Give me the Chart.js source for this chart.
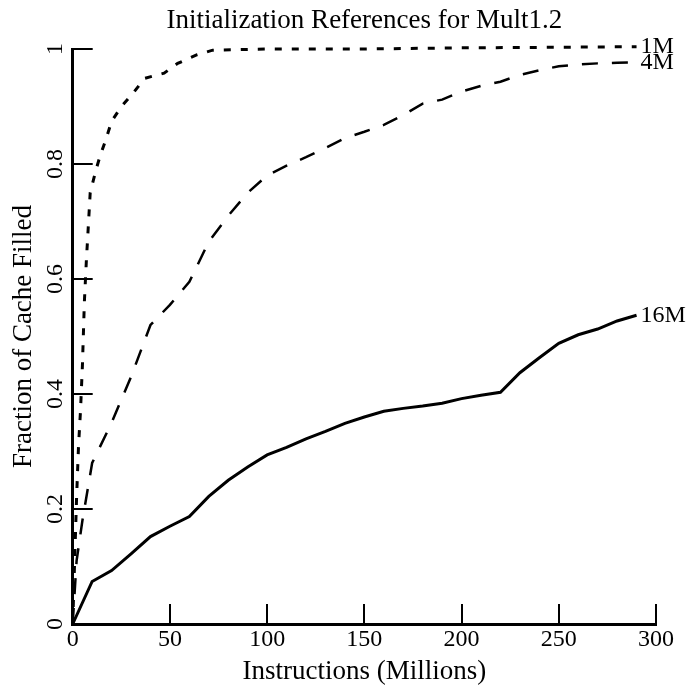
<!DOCTYPE html>
<html>
<head>
<meta charset="utf-8">
<script src="https://cdn.jsdelivr.net/npm/chart.js@4/dist/chart.umd.min.js"></script>
<style>
  html, body { margin: 0; padding: 0; background: #fff; }
  canvas { display: block; }
</style>
</head>
<body>
<canvas id="chart" width="691" height="685"></canvas>
<script>
// values
const x1M = [0, 1, 2, 3, 4, 5, 6, 7, 8, 9, 12, 14, 17, 20, 25, 31, 37, 47, 54, 64, 72, 100, 150, 200, 250, 290];
const y1M = [0, 0.11, 0.22, 0.31, 0.37, 0.45, 0.56, 0.63, 0.69, 0.75, 0.79, 0.813, 0.842, 0.874, 0.9, 0.923, 0.949, 0.958, 0.975, 0.99, 0.998, 1.0, 1.0, 1.002, 1.003, 1.004];

const x4M = [0, 2, 5, 10, 20, 30, 40, 50, 60, 70, 80, 90, 100, 110, 120, 130, 140, 150, 160, 170, 180, 190, 200, 210, 220, 230, 240, 250, 260, 270, 280, 290];
const y4M = [0, 0.11, 0.18, 0.28, 0.35, 0.43, 0.52, 0.555, 0.595, 0.665, 0.71, 0.75, 0.78, 0.797, 0.812, 0.828, 0.845, 0.856, 0.868, 0.885, 0.905, 0.912, 0.926, 0.936, 0.943, 0.955, 0.963, 0.97, 0.973, 0.975, 0.976, 0.977];

const x16M = [0, 10, 20, 30, 40, 50, 60, 70, 80, 90, 100, 110, 120, 130, 140, 150, 160, 170, 180, 190, 200, 210, 220, 230, 240, 250, 260, 270, 280, 290];
const y16M = [0, 0.074, 0.093, 0.122, 0.152, 0.17, 0.187, 0.222, 0.25, 0.273, 0.294, 0.307, 0.322, 0.335, 0.349, 0.36, 0.37, 0.375, 0.379, 0.384, 0.392, 0.398, 0.403, 0.437, 0.463, 0.488, 0.503, 0.513, 0.527, 0.537];

const xTickValues = [0, 50, 100, 150, 200, 250, 300];
const xTickLabels = ["0", "50", "100", "150", "200", "250", "300"];
const yTickValues = [0, 0.2, 0.4, 0.6, 0.8, 1];
const yTickLabels = ["0", "0.2", "0.4", "0.6", "0.8", "1"];

const toPoints = (xs, ys) => xs.map((x, i) => ({ x: x, y: ys[i] }));

const serif = '"Liberation Serif", "Times New Roman", serif';
Chart.defaults.font.family = serif;
Chart.defaults.color = "#000";

// labels at the right end of each curve
const endLabels = {
  id: "endLabels",
  afterDatasetsDraw(chart) {
    const ctx = chart.ctx;
    ctx.save();
    ctx.font = "24px " + serif;
    ctx.fillStyle = "#000";
    ctx.textBaseline = "middle";
    chart.data.datasets.forEach((ds, i) => {
      const pts = chart.getDatasetMeta(i).data;
      const last = pts[pts.length - 1];
      ctx.fillText(ds.label, last.x + 4, last.y);
    });
    ctx.restore();
  }
};

const whiteBg = {
  id: "whiteBg",
  beforeDraw(chart) {
    const ctx = chart.ctx;
    ctx.save();
    ctx.fillStyle = "#fff";
    ctx.fillRect(0, 0, chart.width, chart.height);
    ctx.restore();
  }
};

new Chart(document.getElementById("chart"), {
  type: "line",
  data: {
    datasets: [
      { label: "1M", data: toPoints(x1M, y1M), borderWidth: 3, borderDash: [7, 10] },
      { label: "4M", data: toPoints(x4M, y4M), borderWidth: 2.5, borderDash: [16, 14] },
      { label: "16M", data: toPoints(x16M, y16M), borderWidth: 3 }
    ].map(ds => Object.assign(ds, {
      borderColor: "#000",
      pointRadius: 0,
      tension: 0,
      fill: false,
      clip: 6
    }))
  },
  options: {
    responsive: false,
    animation: false,
    layout: { padding: { top: 0, right: 35, bottom: 0, left: 0 } },
    plugins: {
      legend: { display: false },
      tooltip: { enabled: false },
      title: {
        display: true,
        text: "Initialization References for Mult1.2",
        fullSize: false,
        color: "#000",
        font: { size: 27, weight: "normal", lineHeight: 1 },
        padding: { top: 7.5, bottom: 14.5 }
      }
    },
    scales: {
      x: {
        type: "linear",
        min: 0,
        max: 300,
        border: { display: true, width: 3, color: "#000" },
        grid: { drawOnChartArea: false, drawTicks: true, tickLength: -20, lineWidth: 2, color: "#000" },
        afterBuildTicks: s => { s.ticks = xTickValues.map(v => ({ value: v })); },
        ticks: {
          padding: 24,
          maxRotation: 0,
          autoSkip: false,
          font: { size: 24, lineHeight: 1 },
          callback: (v) => xTickLabels[xTickValues.indexOf(v)]
        },
        title: {
          display: true,
          text: "Instructions (Millions)",
          font: { size: 27, lineHeight: 1 },
          padding: { top: 0, bottom: 0 }
        },
        afterFit: s => {
          s.height = 61;
          s.paddingLeft = 0; s.paddingRight = 0;
        }
      },
      y: {
        type: "linear",
        min: 0,
        max: 1,
        border: { display: true, width: 3, color: "#000" },
        grid: { drawOnChartArea: false, drawTicks: true, tickLength: -20, lineWidth: 2, color: "#000" },
        afterBuildTicks: s => { s.ticks = yTickValues.map(v => ({ value: v })); },
        ticks: {
          padding: 22,
          minRotation: 90,
          maxRotation: 90,
          crossAlign: "center",
          autoSkip: false,
          font: { size: 24, lineHeight: 1 },
          callback: (v) => yTickLabels[yTickValues.indexOf(v)]
        },
        title: {
          display: true,
          text: "Fraction of Cache Filled",
          font: { size: 27, lineHeight: 1 },
          padding: { top: 10.5, bottom: 0 }
        },
        afterFit: s => {
          s.width = 72.7;
          s.paddingTop = 0; s.paddingBottom = 0;
        }
      }
    }
  },
  plugins: [whiteBg, endLabels]
});
</script>
</body>
</html>
